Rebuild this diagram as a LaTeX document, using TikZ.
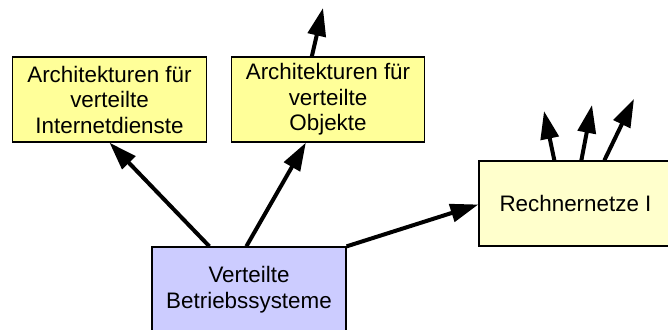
\documentclass[tikz,border=0pt]{standalone}
\usepackage{fontspec}
\setmainfont{Liberation Sans}
\usetikzlibrary{arrows.meta,calc}
\begin{document}
\begin{tikzpicture}[x=1pt,y=-1pt,
  box/.style={draw=black,line width=1.3pt,minimum width=194pt,minimum height=85pt,inner sep=0pt,align=center,font=\fontsize{22.4}{25.5}\selectfont},
  conn/.style={line width=4pt,-{Triangle[length=28pt,width=18pt]}}]
\useasboundingbox (0,0) rectangle (668,329);
\begin{scope}
\clip (0,0) rectangle (668,329);
\node[box,fill={rgb,255:red,255;green,255;blue,153}] (a1) at (109.5,99.5) {Architekturen für\\verteilte\\Internetdienste};
\node[box,fill={rgb,255:red,255;green,255;blue,153},minimum width=193pt] (a2) at (328,99.5) {Architekturen für\\verteilte\\Objekte};
\node[box,fill={rgb,255:red,255;green,255;blue,204},minimum width=193pt] (r) at (575.5,203.5) {Rechnernetze I};
\node[box,fill={rgb,255:red,204;green,204;blue,255}] (v) at (249,289.5) {Verteilte\\Betriebssysteme};
\end{scope}
\coordinate (t0) at (323,8);
\coordinate (t1) at (544,111);
\coordinate (t2) at (592,105);
\coordinate (t3) at (634,99);
\draw[conn] ($(v.north west)+(58,0)$) -- (a1.south);
\draw[conn] ($(v.north west)+(95,0)$) -- ($(a2.south west)+(75,0)$);
\draw[conn] (v.north east) -- ($(r.west)+(0,1)$);
\draw[conn] ($(a2.north west)+(81,0)$) -- (t0);
\draw[conn] ($(r.north west)+(76,0)$) -- (t1);
\draw[conn] ($(r.north west)+(103,0)$) -- (t2);
\draw[conn] ($(r.north west)+(126,0)$) -- (t3);
\end{tikzpicture}
\end{document}
